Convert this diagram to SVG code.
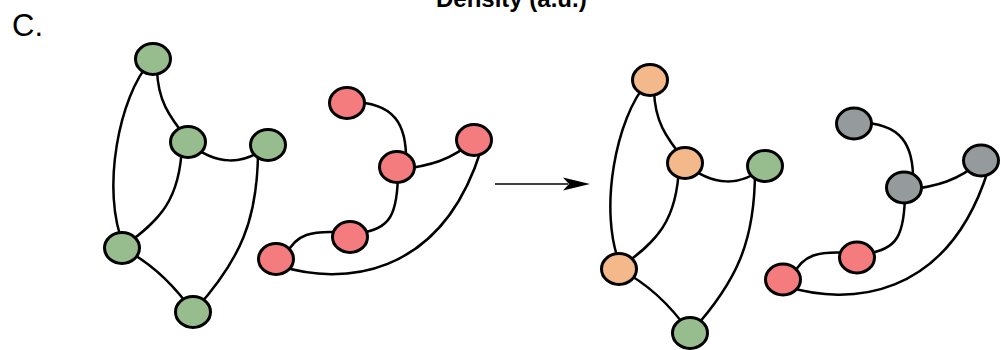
<svg xmlns="http://www.w3.org/2000/svg" width="1001" height="350" viewBox="0 0 1001 350">
<style>
.e{fill:none;stroke:#000;stroke-width:2.5;stroke-linecap:round}
.n{stroke:#000;stroke-width:3}
.g{fill:#97bd8e}
.r{fill:#f47c7e}
.o{fill:#f3b98a}
.k{fill:#959b9c}
.t{font-family:"Liberation Sans",Arial,sans-serif;fill:#000}
</style>
<text class="t" x="436" y="7" font-size="24" font-weight="bold">Density (a.u.)</text>
<text class="t" x="12" y="35.5" font-size="31">C.</text>
<defs>
<g id="edgesA">
<path class="e" d="M150,62 C120,95 100,190 124,246"/>
<path class="e" d="M157,70 C158,100 168,115 188,140"/>
<path class="e" d="M188,142 C215,166 245,166 268,145"/>
<path class="e" d="M182,145 C180,200 160,220 124,246"/>
<path class="e" d="M258,150 C258,220 240,260 195,310"/>
<path class="e" d="M122,248 C150,262 172,282 193,312"/>
</g>
<g id="edgesB">
<path class="e" d="M350,102 C395,102 407,125 406,162"/>
<path class="e" d="M397,170 C430,166 452,160 474,140"/>
<path class="e" d="M398,170 C398,215 390,230 358,233"/>
<path class="e" d="M350,233 C310,229 295,235 286,255"/>
<path class="e" d="M280,266 C340,285 440,280 481,150"/>
</g>
</defs>
<g id="connectors">
<use href="#edgesA"/>
<use href="#edgesB"/>
<use href="#edgesA" transform="translate(497,21)"/>
<use href="#edgesB" transform="translate(507,20.5)"/>
<line x1="495" y1="184" x2="568" y2="184" stroke="#000" stroke-width="1.6"/>
<path d="M590,184 L563,177.5 L569,184 L563,190.5 Z" fill="#000"/>
</g>
<g id="left-green">
<g id="a1"><ellipse class="n g" cx="153" cy="59" rx="17.5" ry="15.5"/></g>
<g id="a2"><ellipse class="n g" cx="188" cy="142" rx="17.5" ry="15.5"/></g>
<g id="a3"><ellipse class="n g" cx="268" cy="145" rx="17.5" ry="15.5"/></g>
<g id="a4"><ellipse class="n g" cx="122" cy="248" rx="17.5" ry="15.5"/></g>
<g id="a5"><ellipse class="n g" cx="193" cy="312" rx="17.5" ry="15.5"/></g>
</g>
<g id="left-red">
<g id="b1"><ellipse class="n r" cx="347" cy="103" rx="17.5" ry="15.5"/></g>
<g id="b2"><ellipse class="n r" cx="474" cy="140" rx="17.5" ry="15.5"/></g>
<g id="b3"><ellipse class="n r" cx="397" cy="167" rx="17.5" ry="15.5"/></g>
<g id="b4"><ellipse class="n r" cx="350" cy="237" rx="17.5" ry="15.5"/></g>
<g id="b5"><ellipse class="n r" cx="276" cy="259" rx="17.5" ry="15.5"/></g>
</g>
<g id="right-a">
<g id="c1"><ellipse class="n o" cx="650" cy="80" rx="17.5" ry="15.5"/></g>
<g id="c2"><ellipse class="n o" cx="685" cy="163" rx="17.5" ry="15.5"/></g>
<g id="c3"><ellipse class="n g" cx="765" cy="166" rx="17.5" ry="15.5"/></g>
<g id="c4"><ellipse class="n o" cx="619" cy="269" rx="17.5" ry="15.5"/></g>
<g id="c5"><ellipse class="n g" cx="690" cy="333" rx="17.5" ry="15.5"/></g>
</g>
<g id="right-b">
<g id="d1"><ellipse class="n k" cx="854" cy="123.5" rx="17.5" ry="15.5"/></g>
<g id="d2"><ellipse class="n k" cx="981" cy="160.5" rx="17.5" ry="15.5"/></g>
<g id="d3"><ellipse class="n k" cx="904" cy="187.5" rx="17.5" ry="15.5"/></g>
<g id="d4"><ellipse class="n r" cx="857" cy="257.5" rx="17.5" ry="15.5"/></g>
<g id="d5"><ellipse class="n r" cx="783" cy="279.5" rx="17.5" ry="15.5"/></g>
</g>
</svg>
